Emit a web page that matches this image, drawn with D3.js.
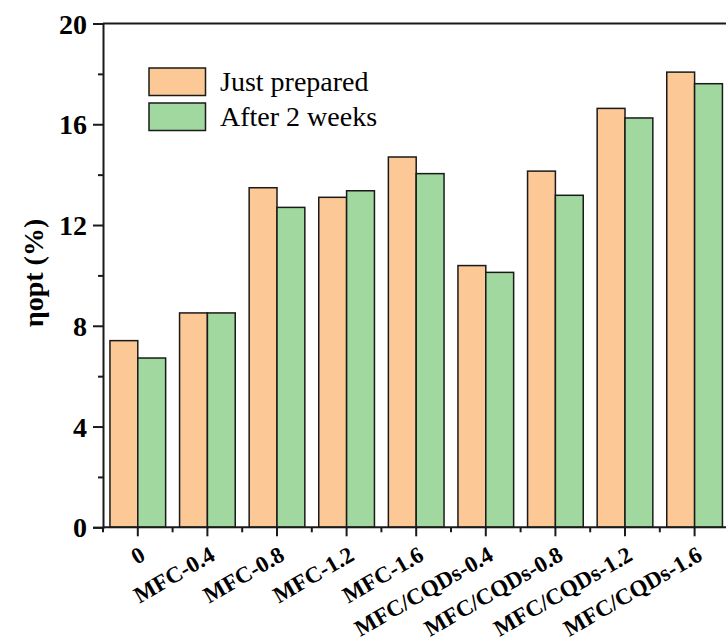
<!DOCTYPE html>
<html>
<head>
<meta charset="utf-8">
<script src="https://cdn.jsdelivr.net/npm/d3@7"></script>
<style>
  html, body { margin: 0; padding: 0; background: #ffffff; }
  svg { display: block; }
  svg text { font-family: "Times New Roman", "Liberation Serif", Tinos, "DejaVu Serif", serif; }
</style>
</head>
<body>
<div id="chart"></div>
<script>
const categories = ['0', 'MFC-0.4', 'MFC-0.8', 'MFC-1.2', 'MFC-1.6',
    'MFC/CQDs-0.4', 'MFC/CQDs-0.8', 'MFC/CQDs-1.2', 'MFC/CQDs-1.6'];
const seriesNames = ['Just prepared', 'After 2 weeks'];
const justPrepared = [7.41, 8.51, 13.48, 13.10, 14.70, 10.39, 14.14, 16.63, 18.07];
const afterTwoWeeks = [6.72, 8.51, 12.70, 13.36, 14.04, 10.12, 13.18, 16.25, 17.61];
const yTicks = [0, 4, 8, 12, 16, 20];
const yMinorTicks = [2, 6, 10, 14, 18];
const colors = ['#fbc896', '#a0d89f'];

const width = 726, height = 641;
const plotLeft = 103, plotTop = 23.5, plotBottom = 527.3;
const step = 69.6;
const serif = '"Times New Roman", "Liberation Serif", Tinos, "DejaVu Serif", serif';

const svg = d3.select('#chart')
    .append('svg')
    .attr('width', width)
    .attr('height', height)
    .attr('font-family', serif);

const x = d3.scaleBand()
    .domain(categories)
    .range([plotLeft, plotLeft + step * categories.length])
    .paddingInner(0)
    .paddingOuter(0);

const xSub = d3.scaleBand()
    .domain(seriesNames)
    .range([0, x.bandwidth()])
    .paddingInner(0)
    .paddingOuter(0.25);

const y = d3.scaleLinear()
    .domain([0, 20])
    .range([plotBottom, plotTop]);

const rows = categories.map((c, i) => ({
    cat: c,
    values: [
        { name: seriesNames[0], v: justPrepared[i], color: colors[0] },
        { name: seriesNames[1], v: afterTwoWeeks[i], color: colors[1] }
    ]
}));

// bars
const groups = svg.append('g')
    .selectAll('g')
    .data(rows)
    .enter()
    .append('g')
    .attr('transform', d => `translate(${x(d.cat)},0)`);

groups.selectAll('rect')
    .data(d => d.values)
    .enter()
    .append('rect')
    .attr('x', d => xSub(d.name))
    .attr('y', d => y(d.v))
    .attr('width', xSub.bandwidth())
    .attr('height', d => y(0) - y(d.v))
    .attr('fill', d => d.color)
    .attr('stroke', '#1a1a1a')
    .attr('stroke-width', 1.5);

// top frame line
svg.append('line')
    .attr('x1', plotLeft).attr('x2', width)
    .attr('y1', plotTop).attr('y2', plotTop)
    .attr('stroke', '#1a1a1a')
    .attr('stroke-width', 2);

// y axis
const yAxis = svg.append('g')
    .attr('transform', `translate(${plotLeft},0)`)
    .call(d3.axisLeft(y).tickValues(yTicks).tickSize(10).tickPadding(6).tickFormat(d3.format('d')));
svg.append('g')
    .attr('transform', `translate(${plotLeft},0)`)
    .call(d3.axisLeft(y).tickValues(yMinorTicks).tickSize(5).tickFormat(''))
    .select('.domain').remove();

yAxis.attr('font-family', serif);
yAxis.select('.domain').attr('stroke', '#1a1a1a').attr('stroke-width', 2);
yAxis.selectAll('.tick text')
    .attr('font-size', 28)
    .attr('font-weight', 'bold')
    .attr('fill', '#000')
    .attr('dy', '0.34em');

// x axis
const xAxis = svg.append('g')
    .attr('transform', `translate(0,${plotBottom})`)
    .call(d3.axisBottom(x).tickSize(9).tickFormat(''));
xAxis.select('.domain')
    .attr('d', `M${plotLeft},0H${width + 10}`)
    .attr('stroke', '#1a1a1a')
    .attr('stroke-width', 2);

svg.selectAll('.tick line').attr('stroke', '#1a1a1a').attr('stroke-width', 2);

// minor x ticks at band boundaries
const boundaries = categories.map(c => x(c));
svg.append('g')
    .selectAll('line')
    .data(boundaries)
    .enter()
    .append('line')
    .attr('x1', d => d).attr('x2', d => d)
    .attr('y1', plotBottom).attr('y2', plotBottom + 5)
    .attr('stroke', '#1a1a1a')
    .attr('stroke-width', 2);

// rotated category labels
svg.append('g')
    .selectAll('text')
    .data(categories)
    .enter()
    .append('text')
    .attr('transform', d => `translate(${x(d) + x.bandwidth() / 2 + 9},${plotBottom + 32}) rotate(-30)`)
    .attr('text-anchor', 'end')
    .attr('font-size', 23)
    .attr('font-weight', 'bold')
    .attr('fill', '#000')
    .text(d => d);

// y axis title
svg.append('text')
    .attr('transform', `translate(43,273) rotate(-90)`)
    .attr('text-anchor', 'middle')
    .attr('font-size', 28)
    .attr('font-weight', 'bold')
    .attr('fill', '#000')
    .text('\u03b7opt (%)');

// legend
const legend = svg.append('g')
    .selectAll('g')
    .data(seriesNames)
    .enter()
    .append('g')
    .attr('transform', (d, i) => `translate(149,${68 + i * 35})`);

legend.append('rect')
    .attr('width', 56.5)
    .attr('height', 27.5)
    .attr('fill', (d, i) => colors[i])
    .attr('stroke', '#1a1a1a')
    .attr('stroke-width', 1.5);

legend.append('text')
    .attr('x', 71)
    .attr('y', 23)
    .attr('font-size', 28)
    .attr('fill', '#000')
    .text(d => d);
</script>
</body>
</html>
